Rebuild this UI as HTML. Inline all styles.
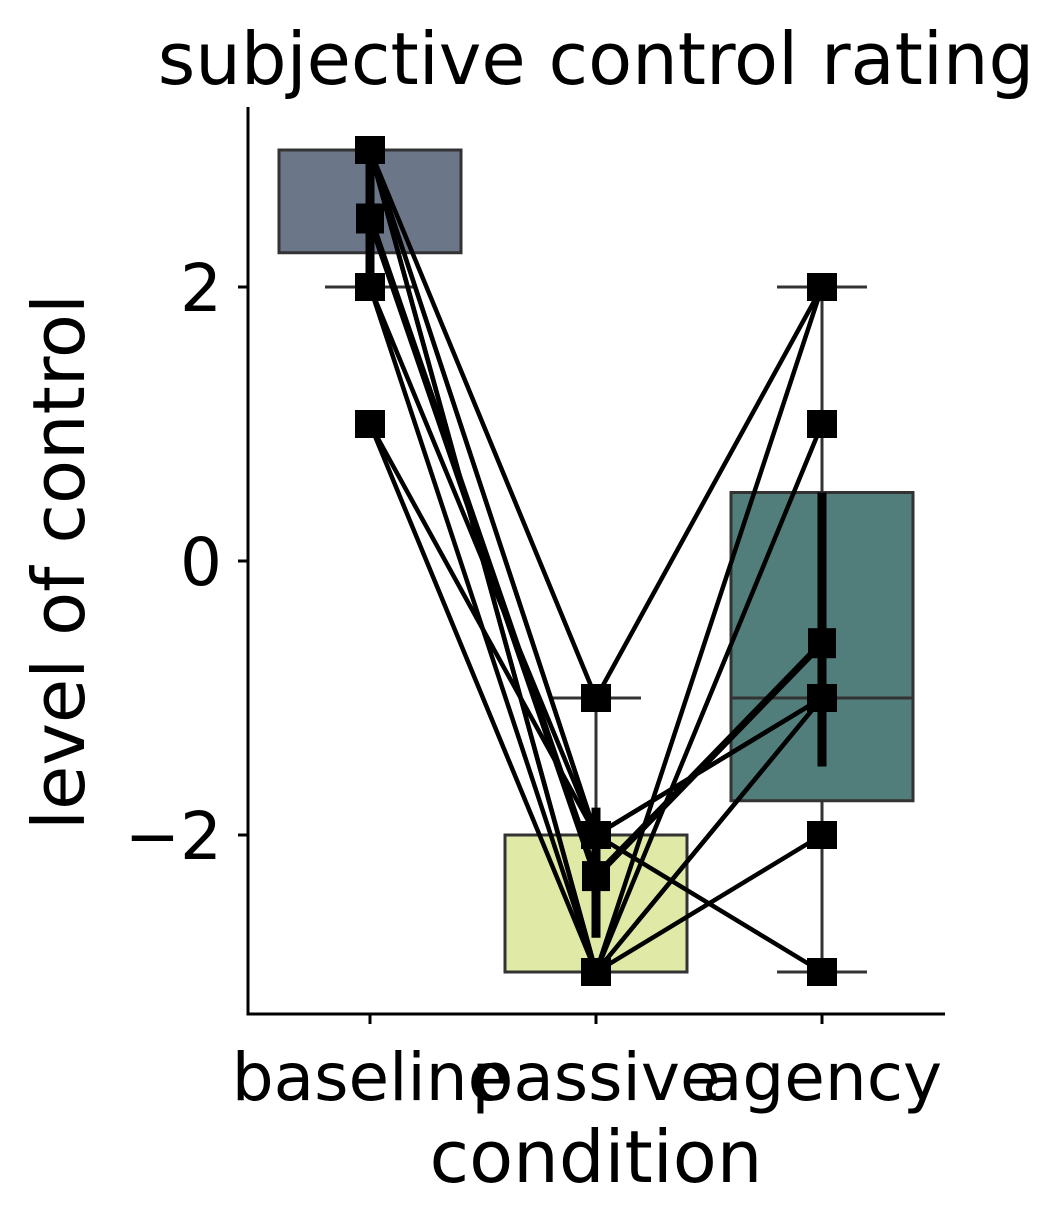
<!DOCTYPE html>
<html><head><meta charset="utf-8"><style>
body{margin:0;background:#fff;}
svg{display:block;font-family:"DejaVu Sans","Liberation Sans",sans-serif;}
</style></head><body>
<svg id="c" width="1064" height="1229"></svg>
<script>
const categories=["baseline","passive","agency"];
const boxLow=[2.25,-3,-1.75];
const boxHigh=[3,-2,0.5];
const boxMedian=[3,-3,-1];
const whiskLow=[2,-3,-3];
const whiskHigh=[3,-1,2];
const boxColors=["#6b7788","#e0eaa6","#517d7a"];
const subjBaseline=[3,3,3,3,3,2,1,1,2,3];
const subjPassive=[-1,-2,-2,-3,-3,-3,-2,-3,-2,-3];
const subjAgency=[2,-1,-3,2,1,-1,-1,-2,-1,-1];
const meanVals=[2.5,-2.3,-0.6];
const errLow=[2.0,-2.75,-1.5];
const errHigh=[3.0,-1.8,0.5];
const yTicks=[-2,0,2];

const NS="http://www.w3.org/2000/svg";
const svg=document.getElementById('c');
const y=v=>561-v*137;
const x=i=>370+i*226;
function el(t,a,p){const e=document.createElementNS(NS,t);for(const k in a)e.setAttribute(k,a[k]);(p||svg).appendChild(e);return e;}

categories.forEach((c,i)=>{
  const w=el('line',{x1:x(i),x2:x(i),y1:y(whiskLow[i]),y2:y(whiskHigh[i]),stroke:'#333','stroke-width':3});
  
  
  [whiskLow[i],whiskHigh[i]].forEach(v=>{
    if(v===boxLow[i]||v===boxHigh[i])return;
    const cp=el('line',{x1:x(i)-45,x2:x(i)+45,y1:y(v),y2:y(v),stroke:'#333','stroke-width':3});
    
    
  });
  const b=el('rect',{x:x(i)-91,y:y(boxHigh[i]),width:182,height:y(boxLow[i])-y(boxHigh[i]),fill:boxColors[i],stroke:'#333','stroke-width':3});
  
  
  const m=el('line',{x1:x(i)-91,x2:x(i)+91,y1:y(boxMedian[i]),y2:y(boxMedian[i]),stroke:'#333','stroke-width':3});
  
  
});

subjBaseline.forEach((b,k)=>{
  const p=el('polyline',{points:`${x(0)},${y(b)} ${x(1)},${y(subjPassive[k])} ${x(2)},${y(subjAgency[k])}`,fill:'none',stroke:'#000','stroke-width':4.5});
  
  
  [b,subjPassive[k],subjAgency[k]].forEach((v,i)=>{
    const s=el('rect',{x:x(i)-15,y:y(v)-14,width:30,height:28,fill:'#000'});
    
    
  });
});
const ml=el('polyline',{points:meanVals.map((v,i)=>x(i)+','+y(v)).join(' '),fill:'none',stroke:'#000','stroke-width':7});


meanVals.forEach((v,i)=>{
  const e=el('line',{x1:x(i),x2:x(i),y1:y(errLow[i]),y2:y(errHigh[i]),stroke:'#000','stroke-width':9});
  
  
  const s=el('rect',{x:x(i)-14,y:y(v)-15,width:28,height:30,fill:'#000'});
  
  
});

const ax=el('path',{d:'M248,107 V1014 H945',fill:'none',stroke:'#000','stroke-width':3});


yTicks.forEach(t=>{
  const l=el('line',{x1:238,x2:248,y1:y(t),y2:y(t),stroke:'#000','stroke-width':3});
  
  
  const tx=el('text',{x:222,y:y(t)+24,'text-anchor':'end','font-size':66});
  tx.textContent=t<0?'\u2212'+Math.abs(t):String(t);
  
  
});
categories.forEach((c,i)=>{
  const l=el('line',{x1:x(i),x2:x(i),y1:1014,y2:1024,stroke:'#000','stroke-width':3});
  
  
  const tx=el('text',{x:x(i),y:1100,'text-anchor':'middle','font-size':66});
  tx.textContent=c;
  
  
});
const xt=el('text',{x:596,y:1182,'text-anchor':'middle','font-size':72});
xt.textContent='condition';


const yt=el('text',{x:0,y:0,'text-anchor':'middle','font-size':72,transform:'translate(84,562) rotate(-90)'});
yt.textContent='level of control';


const tt=el('text',{x:596,y:84,'text-anchor':'middle','font-size':72});
tt.textContent='subjective control rating';


</script>
</body></html>
